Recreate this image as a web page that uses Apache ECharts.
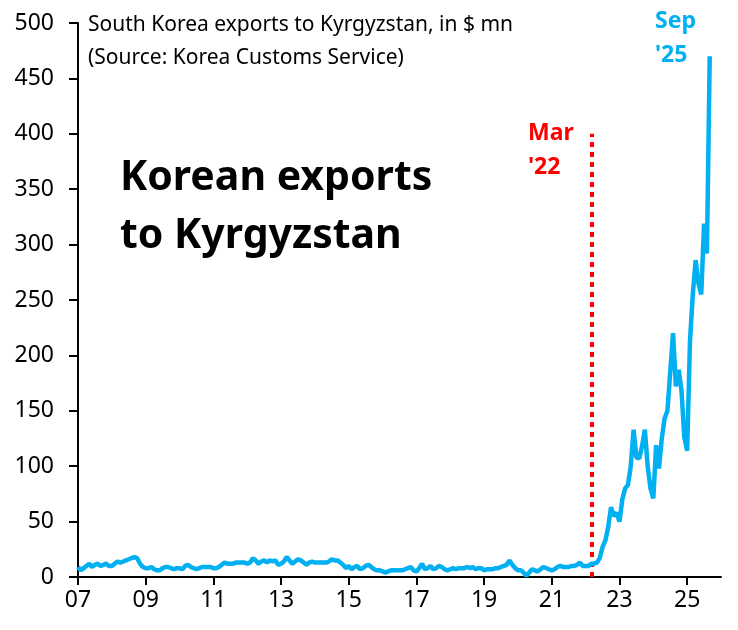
<!DOCTYPE html>
<html>
<head>
    <meta charset="utf-8">
    <title>Korean exports to Kyrgyzstan</title>
    <script src="https://cdn.jsdelivr.net/npm/echarts@6/dist/echarts.min.js"></script>
    <style>
        html, body { margin: 0; padding: 0; background: #fff; }
    </style>
</head>
<body>
    <div id="main" style="width: 738px;height:630px;"></div>
    <script type="text/javascript">

    // monthly exports, $ mn, Jan 2007 .. Sep 2025
    var startYear = 2007;
    var exports2007_2011 = [
        9, 6, 8, 10, 12, 9, 11, 12, 10, 11, 12, 10,
        10, 12, 14, 13, 14, 15, 16, 17, 18, 17, 12, 9,
        8, 8, 9, 7, 6, 6, 8, 9, 9, 8, 7, 8,
        8, 7, 10, 11, 9, 8, 7, 8, 9, 9, 9, 9,
        8, 8, 9, 11, 13, 12, 12, 12, 13, 13, 13, 13
    ];
    var exports2012_2016 = [
        12, 13, 17, 15, 12, 14, 15, 13, 15, 14, 15, 11,
        12, 14, 18, 15, 12, 14, 16, 15, 13, 11, 13, 14,
        13, 13, 13, 13, 13, 14, 16, 15, 15, 13, 11, 8,
        10, 7, 9, 10, 7, 8, 10, 11, 9, 7, 6, 6,
        5, 4, 5, 6, 6, 6, 6, 6, 7, 8, 9, 6
    ];
    var exports2017_2021 = [
        5, 8, 12, 7, 8, 10, 7, 8, 10, 9, 7, 6,
        7, 8, 7, 8, 8, 8, 9, 8, 9, 7, 8, 8,
        6, 7, 7, 7, 8, 8, 9, 10, 11, 15, 11, 8,
        6, 6, 4, 1, 4, 7, 6, 5, 7, 9, 8, 7,
        6, 7, 9, 10, 9, 9, 9, 10, 10, 11, 13, 10
    ];
    var exports2022_2025 = [
        10, 10, 12, 12, 13, 17, 27, 33, 45, 63, 55, 58,
        50, 70, 80, 83, 100, 133, 108, 107, 118, 133, 100, 80,
        71, 119, 98, 125, 143, 150, 185, 220, 172, 187, 168, 126,
        114, 213, 255, 286, 265, 255, 319, 292, 470
    ];
    var yTicks = [0, 50, 100, 150, 200, 250, 300, 350, 400, 450, 500];
    var xTicks = [0, 24, 48, 72, 96, 120, 144, 168, 192, 216];   // Jan of odd years
    var marchIndex = 182;   // Mar 2022, months since Jan 2007
    var markTop = 400;

    var values = [].concat(exports2007_2011, exports2012_2016, exports2017_2021, exports2022_2025);
    var seriesData = values.map(function (v, i) { return [i, v]; });

    var myChart = echarts.init(document.getElementById('main'));

    var font = 'Noto Sans';
    var option = {
        animation: false,
        backgroundColor: '#fff',
        grid: { left: 78, right: 17, top: 23, bottom: 53 },
        title: [{
            text: 'South Korea exports to Kyrgyzstan, in $ mn\n(Source: Korea Customs Service)',
            left: 83, top: 4,
            textStyle: { fontFamily: font, fontSize: 21, fontWeight: 'normal', color: '#000', lineHeight: 33 }
        }],
        graphic: [{
            type: 'text', left: 120, top: 149,
            style: { text: 'Korean exports\nto Kyrgyzstan', font: 'bold 41px "Noto Sans"', fill: '#000', lineHeight: 58 }
        }, {
            type: 'text', left: 528, top: 116,
            style: { text: "Mar\n'22", font: 'bold 23px "Noto Sans"', fill: '#ff0000', lineHeight: 34 }
        }, {
            type: 'text', left: 655, top: 4,
            style: { text: "Sep\n'25", font: 'bold 23px "Noto Sans"', fill: '#00B0F0', lineHeight: 34 }
        }],
        xAxis: {
            type: 'value',
            min: 0, max: 228, interval: 24,
            axisLine: { lineStyle: { color: '#000', width: 2 } },
            axisTick: { length: 8, customValues: xTicks, lineStyle: { color: '#000', width: 2 } },
            splitLine: { show: false },
            axisLabel: {
                fontFamily: font, fontSize: 23, color: '#000', margin: 12,
                customValues: xTicks,
                formatter: function (v) {
                    var y = (startYear + v / 12) % 100;
                    return (y < 10 ? '0' : '') + y;
                }
            }
        },
        yAxis: {
            type: 'value',
            min: yTicks[0], max: yTicks[yTicks.length - 1], interval: 50,
            axisLine: { show: true, lineStyle: { color: '#000', width: 2 } },
            axisTick: { show: true, length: 9, lineStyle: { color: '#000', width: 2 } },
            splitLine: { show: false },
            axisLabel: { fontFamily: font, fontSize: 23, color: '#000', margin: 24 }
        },
        series: [{
            type: 'line',
            data: seriesData,
            symbol: 'none',
            lineStyle: { color: '#00B0F0', width: 4.5 },
            z: 3,
            markLine: {
                silent: true,
                symbol: 'none',
                label: { show: false },
                lineStyle: { color: '#ff0000', width: 4, type: [5, 5] },
                data: [[{ coord: [marchIndex, 0] }, { coord: [marchIndex, markTop] }]],
                z: 2
            }
        }]
    };

    myChart.setOption(option);
    </script>
</body>
</html>
